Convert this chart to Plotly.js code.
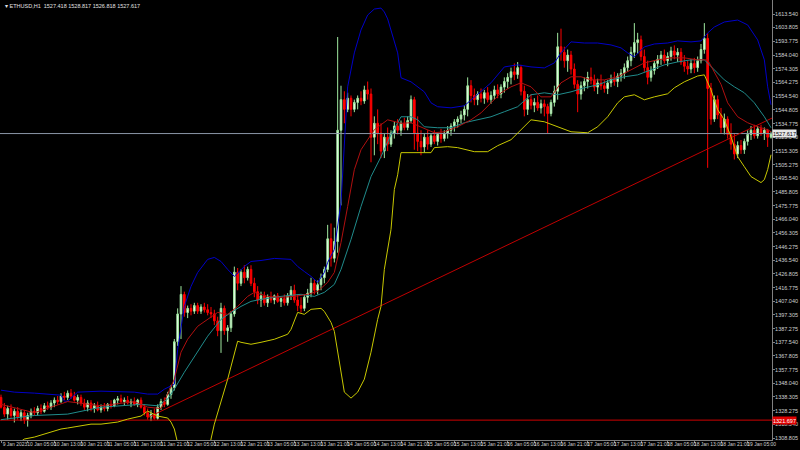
<!DOCTYPE html>
<html>
<head>
<meta charset="utf-8">
<script src="https://cdn.plot.ly/plotly-3.0.1.min.js"></script>
<style>html,body{margin:0;padding:0;background:#000;}#chart{width:800px;height:450px;}</style>
</head>
<body>
<div id="chart"></div>
<script>
// ---- DATA ----
const openP = [1338,1331,1326,1330,1325,1328,1324,1327,1322,1325,1328,1327,1330,1328,1332,1331,1334,1336,1335,1339,1338,1341,1339,1336,1338,1334,1331,1334,1330,1332,1329,1331,1330,1333,1332,1336,1337,1335,1336,1334,1335,1333,1336,1331,1327,1324,1326,1323,1331,1335,1333,1340,1345,1378,1398,1412,1399,1402,1400,1404,1400,1403,1401,1399,1398,1393,1386,1402,1386,1388,1398,1428,1420,1428,1424,1430,1420,1414,1408,1411,1406,1410,1408,1411,1407,1409,1406,1411,1415,1408,1404,1402,1410,1413,1420,1415,1419,1424,1430,1452,1438,1450,1530,1552,1545,1553,1545,1550,1553,1551,1559,1556,1525,1535,1528,1515,1525,1520,1528,1533,1530,1535,1532,1537,1552,1528,1522,1518,1525,1520,1526,1522,1527,1524,1528,1530,1533,1536,1538,1541,1545,1562,1555,1552,1556,1553,1557,1552,1555,1559,1556,1561,1565,1568,1572,1570,1575,1558,1545,1552,1548,1550,1546,1549,1547,1542,1550,1558,1590,1586,1580,1584,1574,1563,1556,1562,1565,1568,1566,1561,1564,1562,1560,1564,1567,1565,1569,1571,1575,1580,1586,1593,1595,1583,1575,1568,1573,1578,1581,1584,1580,1583,1587,1584,1586,1579,1576,1574,1578,1575,1580,1588,1596,1560,1538,1552,1541,1532,1538,1527,1520,1513,1519,1516,1522,1527,1530,1526,1531,1528,1530,1525];
const highP = [1340,1334,1332,1333,1330,1331,1329,1329,1327,1330,1331,1332,1333,1334,1335,1336,1338,1339,1341,1342,1343,1344,1342,1340,1340,1337,1336,1336,1334,1335,1333,1334,1334,1336,1337,1339,1340,1338,1339,1337,1338,1337,1338,1333,1330,1329,1330,1333,1337,1338,1342,1347,1380,1402,1418,1414,1404,1405,1406,1406,1405,1406,1405,1403,1401,1396,1406,1404,1390,1400,1432,1431,1430,1433,1432,1433,1424,1418,1414,1414,1412,1414,1412,1413,1410,1412,1413,1418,1419,1412,1410,1412,1416,1424,1423,1422,1427,1432,1462,1463,1460,1597,1562,1558,1557,1555,1552,1555,1558,1562,1565,1560,1540,1545,1535,1528,1532,1530,1536,1538,1537,1539,1540,1555,1554,1540,1530,1528,1530,1528,1530,1528,1531,1530,1533,1535,1538,1540,1544,1548,1568,1566,1560,1558,1560,1559,1561,1558,1562,1563,1563,1568,1571,1575,1578,1579,1577,1562,1556,1556,1553,1555,1552,1552,1549,1552,1562,1600,1603,1590,1588,1587,1578,1566,1565,1568,1572,1575,1570,1567,1570,1566,1566,1570,1572,1571,1574,1578,1583,1590,1607,1600,1598,1588,1580,1576,1580,1584,1587,1588,1586,1590,1591,1589,1589,1584,1580,1581,1582,1583,1592,1607,1600,1564,1555,1555,1546,1542,1540,1535,1528,1522,1523,1524,1530,1533,1534,1533,1534,1532,1531,1529];
const lowP = [1330,1324,1322,1323,1320,1322,1321,1319,1317,1323,1325,1325,1326,1327,1329,1329,1331,1333,1334,1336,1336,1337,1335,1333,1332,1329,1328,1328,1327,1328,1327,1328,1328,1330,1331,1333,1334,1332,1333,1331,1332,1331,1330,1325,1322,1321,1322,1322,1329,1331,1332,1337,1343,1375,1380,1396,1395,1397,1398,1398,1398,1399,1397,1395,1390,1382,1370,1383,1378,1385,1396,1415,1418,1420,1422,1418,1410,1405,1403,1404,1403,1406,1405,1406,1403,1404,1404,1408,1406,1400,1399,1400,1406,1410,1412,1412,1415,1420,1428,1432,1435,1442,1476,1535,1543,1540,1543,1545,1548,1549,1552,1507,1512,1520,1510,1510,1515,1518,1524,1527,1526,1530,1530,1535,1516,1515,1512,1514,1516,1518,1520,1519,1521,1522,1524,1526,1529,1532,1535,1537,1540,1550,1548,1548,1550,1549,1550,1549,1552,1553,1553,1557,1560,1563,1566,1567,1555,1540,1541,1545,1543,1544,1542,1540,1528,1540,1547,1552,1580,1575,1572,1570,1560,1543,1552,1558,1560,1563,1558,1556,1559,1557,1556,1561,1562,1561,1565,1567,1572,1576,1582,1585,1580,1572,1563,1565,1570,1574,1577,1578,1576,1580,1581,1579,1577,1572,1570,1571,1571,1572,1578,1585,1503,1534,1536,1538,1528,1527,1524,1516,1509,1510,1513,1513,1519,1523,1524,1524,1526,1523,1518,1524];
const closeP = [1331,1326,1330,1325,1328,1324,1327,1322,1325,1328,1327,1330,1328,1332,1331,1334,1336,1335,1339,1338,1341,1339,1336,1338,1334,1331,1334,1330,1332,1329,1331,1330,1333,1332,1336,1337,1335,1336,1334,1335,1333,1336,1331,1327,1324,1326,1323,1331,1335,1333,1340,1345,1378,1398,1412,1399,1402,1400,1404,1400,1403,1401,1399,1398,1393,1386,1402,1386,1388,1398,1428,1420,1428,1424,1430,1420,1414,1408,1411,1406,1410,1408,1411,1407,1409,1406,1411,1415,1408,1404,1402,1410,1413,1420,1415,1419,1424,1430,1452,1438,1450,1530,1552,1545,1553,1545,1550,1553,1551,1559,1556,1525,1535,1528,1515,1525,1520,1528,1533,1530,1535,1532,1537,1552,1528,1522,1518,1525,1520,1526,1522,1527,1524,1528,1530,1533,1536,1538,1541,1545,1562,1555,1552,1556,1553,1557,1552,1555,1559,1556,1561,1565,1568,1572,1570,1575,1558,1545,1552,1548,1550,1546,1549,1547,1542,1550,1558,1590,1586,1580,1584,1574,1563,1556,1562,1565,1568,1566,1561,1564,1562,1560,1564,1567,1565,1569,1571,1575,1580,1586,1593,1595,1583,1575,1568,1573,1578,1581,1584,1580,1583,1587,1584,1586,1579,1576,1574,1578,1575,1580,1588,1596,1560,1538,1552,1541,1532,1538,1527,1520,1513,1519,1516,1522,1527,1530,1526,1531,1528,1530,1525,1527.617];

const tickBars = [0,8,16,24,32,40,48,56,64,72,80,88,96,104,112,120,128,136,144,152,160,168,176,184,192,200,208,216,224];
const tickLabels = ["9 Jan 2023","10 Jan 05:00","10 Jan 13:00","10 Jan 21:00","11 Jan 05:00","11 Jan 13:00","11 Jan 21:00","12 Jan 05:00","12 Jan 13:00","12 Jan 21:00","13 Jan 05:00","13 Jan 13:00","13 Jan 21:00","14 Jan 05:00","14 Jan 13:00","14 Jan 21:00","15 Jan 05:00","15 Jan 13:00","15 Jan 21:00","16 Jan 05:00","16 Jan 13:00","16 Jan 21:00","17 Jan 05:00","17 Jan 13:00","17 Jan 21:00","18 Jan 05:00","18 Jan 13:00","18 Jan 21:00","19 Jan 05:00"];
const priceLabels = ["1308.805","1318.540","1328.275","1338.305","1348.040","1357.775","1367.805","1377.540","1387.275","1397.305","1407.040","1416.775","1426.805","1436.540","1446.275","1456.305","1466.040","1475.775","1485.805","1495.540","1505.275","1515.305","1525.040","1534.775","1544.805","1554.540","1564.275","1574.305","1584.040","1593.775","1603.805","1613.540"];

const bbUpperX = [0,4,10,18,19,20,23,30,40,44,47,49,52,53,55,57,59,62,64,66,68,70,73,75,78,82,87,89,91,93,95,97,98,100,102,104,106,108,110,112,114,115,116,117,119,120,123,127,129,131,135,139,141,143,145,147,151,155,159,163,166,168,171,175,179,183,186,188,190,193,196,200,203,207,210,212,214,217,221,224,227,229,230,231];
const bbUpperY = [1343.2,1341.8,1341.1,1339.6,1335.3,1335.3,1341.8,1342.5,1341.8,1340.4,1340.4,1343.9,1347.5,1372.6,1403.4,1417.8,1427.8,1437.2,1438.6,1435.7,1430.0,1425.0,1432.1,1435.7,1436.4,1437.9,1437.2,1432.1,1428.5,1425.0,1420.7,1427.8,1435.0,1444.3,1478.0,1561.2,1585.6,1602.1,1612.8,1617.1,1617.8,1615.0,1610.0,1602.1,1585.6,1567.7,1564.8,1557.6,1549.7,1546.9,1546.1,1547.6,1551.9,1555.5,1560.5,1564.1,1575.5,1577.0,1575.5,1574.8,1578.4,1585.6,1593.5,1592.7,1592.7,1591.3,1589.2,1585.6,1582.7,1589.9,1592.0,1592.7,1594.2,1593.5,1594.2,1599.9,1604.2,1607.8,1609.2,1605.7,1594.9,1580.6,1561.2,1548.3];
const bbLowerX = [0,4,7,10,15,18,20,24,27,30,35,38,42,44,47,50,51,52,53,55,58,61,63,64,68,71,72,75,78,82,86,87,89,91,93,96,97,99,100,102,103,105,107,109,111,113,114,115,117,118,119,120,123,129,130,134,137,142,146,149,153,157,159,163,167,171,176,179,182,185,187,190,193,196,200,202,205,209,211,213,215,217,219,221,223,225,228,229,230,231];
const bbLowerY = [1296,1303,1308.1,1309.5,1313.1,1315.3,1316.0,1317.4,1318.8,1318.8,1320.3,1322.4,1324.6,1328.2,1324.6,1323.2,1320.3,1315.3,1304.5,1285,1272,1280,1308.1,1318.8,1351.1,1378.4,1377.6,1376.2,1377.6,1379.8,1383.4,1386.9,1399.1,1397.7,1401.3,1402.0,1399.8,1391.9,1385.5,1358.3,1341.8,1337.5,1341.8,1351.1,1370.5,1394.1,1403.4,1430.0,1458.7,1487.4,1498.0,1513.9,1513.9,1513.9,1517.5,1518.2,1517.5,1514.6,1514.6,1518.9,1523.2,1532.5,1537.5,1536.1,1532.5,1528.9,1528.2,1532.5,1539.7,1549.7,1554.0,1555.5,1551.9,1554.0,1556.2,1560.5,1564.8,1569.0,1569.8,1559.0,1544.7,1537.5,1525.3,1511.0,1503.8,1496.7,1492.4,1494.5,1501.7,1512.4];
const midX = [0,10,20,30,42,47,50,52,55,58,62,66,69,72,75,78,84,90,94,97,100,102,105,108,111,114,117,120,123,125,127,131,135,139,143,147,151,155,159,163,167,171,175,179,183,187,191,195,199,203,207,211,214,217,220,223,226,229,231];
const midY = [1322,1325,1326,1331,1333,1332,1336.8,1344.0,1356.1,1367.6,1382.0,1394.1,1399.1,1403.4,1407.0,1408.5,1410.6,1412.1,1410.6,1413.5,1419.2,1430.0,1451.5,1475.2,1496.7,1511.0,1526.8,1539.7,1539.7,1537.5,1532.5,1531.8,1531.8,1535.4,1537.5,1539.7,1543.3,1546.9,1555.5,1556.9,1555.5,1557.6,1560.5,1562.6,1566.2,1568.4,1569.8,1573.4,1577.0,1579.1,1580.6,1580.6,1573.4,1566.2,1561.2,1556.9,1549.7,1539.7,1531.8];
const maX = [0,10,20,30,40,44,48,52,54,56,59,62,65,68,71,74,76,80,84,88,92,95,98,100,102,104,106,108,110,112,116,120,123,126,130,133,137,141,144,147,150,153,156,159,162,165,168,171,174,177,181,185,189,193,197,201,205,209,212,214,216,218,221,224,227,230,231];
const maY = [1333,1327,1335,1332,1335,1331,1330,1351.1,1370.5,1379.8,1389.1,1394.1,1399.1,1397.7,1403.4,1410.6,1413.5,1410.6,1409.9,1410.6,1412.1,1414.2,1420.7,1427.8,1449.3,1475.2,1501.7,1516.0,1523.2,1530.4,1537.5,1535,1535.4,1532.5,1528.2,1528.9,1532.5,1537.5,1542.5,1549.7,1556.9,1561.2,1564.1,1561.2,1554.0,1554.0,1564.1,1568.4,1568.4,1566.2,1566.2,1568.4,1573.4,1578.4,1580.6,1582.0,1582.0,1580.6,1580.6,1572,1563,1549.7,1539.7,1535.4,1532.5,1530.4,1528.9];
const trendX = [44, 233];
const trendY = [1323.5, 1540.7];
const levelPrice = 1321.697;
const bidPrice = 1527.617;
const titleText = "ETHUSD,H1  1527.418 1528.817 1526.818 1527.617";

// ---- CHART ----
const bars = openP.map((_, i) => i);
const xr = [-0.3, 231.3];
const F = "Liberation Sans, Arial, sans-serif";

const traces = [
  {type:'scatter', mode:'lines', x:xr, y:[levelPrice, levelPrice], line:{color:'#d00000', width:1}, hoverinfo:'skip'},
  {type:'scatter', mode:'lines', x:xr, y:[bidPrice, bidPrice], line:{color:'#8a96a6', width:1}, hoverinfo:'skip'},
  {type:'scatter', mode:'lines', x:trendX, y:trendY, line:{color:'#c00000', width:1}, hoverinfo:'skip'},
  {type:'scatter', mode:'lines', x:bbUpperX, y:bbUpperY, line:{color:'#0000c8', width:1}, hoverinfo:'skip'},
  {type:'scatter', mode:'lines', x:bbLowerX, y:bbLowerY, line:{color:'#c8c800', width:1}, hoverinfo:'skip'},
  {type:'scatter', mode:'lines', x:midX, y:midY, line:{color:'#208c8c', width:1}, hoverinfo:'skip'},
  {type:'scatter', mode:'lines', x:maX, y:maY, line:{color:'#b01010', width:1}, hoverinfo:'skip'},
  {type:'candlestick', x:bars, open:openP, high:highP, low:lowP, close:closeP,
    increasing:{line:{color:'#9fe89f', width:1}, fillcolor:'#ffffff'},
    decreasing:{line:{color:'#ff0000', width:1}, fillcolor:'#ff0000'},
    whiskerwidth:0, hoverinfo:'skip'}
];

const layout = {
  width:800, height:450,
  paper_bgcolor:'#000000', plot_bgcolor:'#000000',
  margin:{l:0, r:28, t:0, b:10},
  showlegend:false,
  xaxis:{range:xr, showgrid:false, zeroline:false, showline:true, linecolor:'#808080', linewidth:1,
    tickmode:'array', tickvals:tickBars, ticktext:tickLabels, ticks:'outside', ticklen:2, tickcolor:'#808080',
    tickangle:0, tickfont:{family:F, size:5, color:'#d0d0d0'}, ticklabelshift:14, ticklabelstandoff:-3,
    rangeslider:{visible:false}, fixedrange:true},
  yaxis:{side:'right', range:[1307.4, 1623.6], showgrid:false, zeroline:false, showline:true, linecolor:'#808080', linewidth:1,
    tickmode:'array', tickvals:priceLabels.map(Number), ticktext:priceLabels, ticks:'outside', ticklen:2, tickcolor:'#808080',
    tickfont:{family:F, size:5.5, color:'#d0d0d0'}, ticklabelstandoff:-1, fixedrange:true},
  annotations:[
    {xref:'paper', yref:'paper', x:0.004, y:0.997, xanchor:'left', yanchor:'top', showarrow:false,
     text:'▾ ' + titleText, font:{family:F, size:5.5, color:'#e0e0e0'}},
    {xref:'paper', yref:'y', x:1, y:bidPrice, xanchor:'left', yanchor:'middle', showarrow:false, height:7,
     text:bidPrice.toFixed(3), bgcolor:'#e8e8e8', font:{family:F, size:5.5, color:'#000000'}, borderpad:0},
    {xref:'paper', yref:'y', x:1, y:levelPrice, xanchor:'left', yanchor:'middle', showarrow:false, height:7,
     text:levelPrice.toFixed(3), bgcolor:'#e00000', font:{family:F, size:5.5, color:'#ffffff'}, borderpad:0}
  ]
};

Plotly.newPlot('chart', traces, layout, {staticPlot:true, displayModeBar:false});
</script>
</body>
</html>
